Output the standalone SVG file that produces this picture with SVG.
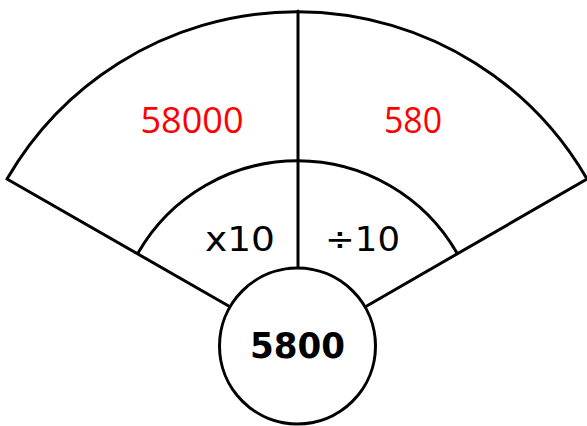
<svg xmlns="http://www.w3.org/2000/svg" width="587" height="426" viewBox="0 0 587 426">
<style>
.ln{fill:none;stroke:#000;stroke-width:3;stroke-linecap:round;stroke-linejoin:round}
.red{font-family:"Open Sans","Liberation Sans",sans-serif;font-size:37px;fill:#ff0000;text-anchor:middle}
.op{font-family:"DejaVu Sans","Liberation Sans",sans-serif;font-size:34px;fill:#000;text-anchor:middle}
.ctr{font-family:"DejaVu Sans","Liberation Sans",sans-serif;font-size:35px;font-weight:bold;fill:#000;text-anchor:middle}
</style>
<rect width="587" height="426" fill="#fff"/>
<g id="connectors">
<path class="ln" d="M230.4,307 L7,179 A335,335 0 0 1 587,179 L365,307"/>
<path class="ln" d="M138,253 A184,184 0 0 1 457,253"/>
<line class="ln" x1="298" y1="11" x2="298" y2="268"/>
</g>
<g id="left-outer"><text class="red" x="192" y="133" textLength="103" lengthAdjust="spacingAndGlyphs">58000</text></g>
<g id="right-outer"><text class="red" x="413" y="133" textLength="58" lengthAdjust="spacingAndGlyphs">580</text></g>
<g id="left-inner"><text class="op" x="240" y="251" textLength="70" lengthAdjust="spacingAndGlyphs">x10</text></g>
<g id="right-inner"><text class="op" x="362.5" y="251" textLength="75" lengthAdjust="spacingAndGlyphs">÷10</text></g>
<g id="center">
<circle cx="297.5" cy="346" r="78" fill="#fff" stroke="#000" stroke-width="3"/>
<text class="ctr" x="297.5" y="358" textLength="95" lengthAdjust="spacingAndGlyphs">5800</text>
</g>
</svg>
